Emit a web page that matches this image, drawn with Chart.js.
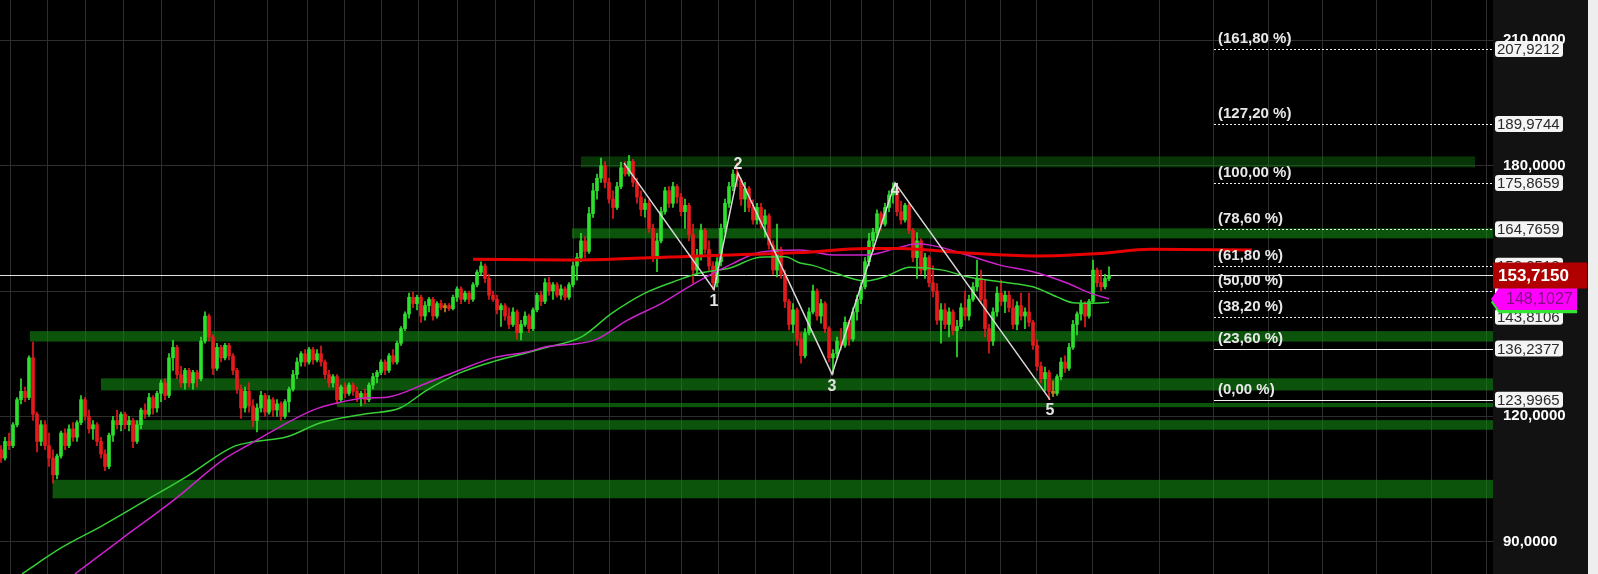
<!DOCTYPE html>
<html lang="en">
<head>
<meta charset="UTF-8">
<title>Elliott wave chart</title>
<style>
  html, body { margin: 0; padding: 0; background: #000; overflow: hidden; }
  canvas { display: block; }
</style>
</head>
<body>
<canvas id="chart" width="1598" height="574"></canvas>
<script src="https://cdn.jsdelivr.net/npm/chart.js"></script>
<script>
// daily candles, index 0..277
const opens = [
  112,110,114,113,118,124,126,124.5,134,120.5,
  114,118,113,110,106,110.5,116,113,117,115,
  118.5,124,120,117,118,114,111,108,115.5,119,
  118,120.5,118,119,114,118,121.5,120.5,124.5,122,
  125.5,128,125,134,136.5,130,128,131,128,130.5,
  129,138,144,139,131.5,136.5,134,137,134.5,131,
  126.5,122,126,122.5,119,122,125,121,124,121.5,
  123,120,123.5,126.5,130,133,135,133,136,133.5,
  135,133,130,128,129.5,124,127,125.5,127.5,126,
  124.5,125.5,124,127.5,129.5,130.5,133,131,134.5,133,
  137.5,141,144.5,148.5,147,148.5,144,146.5,148,144,
  147,146,146.5,145.8,148.5,150.5,148,149.5,148,151.5,
  154.5,156,153,149,148,145.5,146.5,144,142,145,
  140,142,144,141,145.5,149,147.5,152,150,151.5,
  149,150.5,148.5,151.5,156,158,162,159.5,168.5,174,
  177,180,176,172,170,175,179.5,178,181,176,
  172.5,169.5,171,165,158,162,169,174,171,175,
  172.5,169,170.5,163.5,155,158.5,164.5,160,156,152,
  157,165,171,175,178,176.5,172,174.5,170,167,
  170,166,168,161,155,160,154,147.5,142,145.5,
  138.5,134.5,140,145,150,144,147,141,134,135,
  138,137,142.5,138.5,145,148,151,157,162,164,
  168.5,166,170,173,174.5,169,167,170.5,164.5,158,
  162,155,158,152,150,143,145.5,142,145,140.5,
  141.5,146,144,148,151,153,148,141,138,145,
  149.5,147.5,149,146,142,146.5,144,145,142.5,137,
  132,129,130.5,126,125.5,129.5,133,131.5,136.5,142,
  144.5,147,144,147.5,155,152,151,153
];
const highs = [
  113,115,116,118.5,124.5,129,127,134.5,137.8,121,
  119,119,116,112,111,116.5,117,118,118.5,119,
  125,124.5,121.5,119,118.5,115,112,116,120,121.5,
  121,121,120,119.5,119,122,123,125.5,125,126,
  128.7,129,135,138.2,137,132,131.5,131.5,131,131,
  139,145,144.5,139.5,137.5,137,137.5,137.5,135,131.5,
  127.5,127,128,124,123,126,125.5,125,124.5,124,
  123.5,124,127,131,134,135.5,136,136.5,136.5,136,
  136.8,133.5,131,130,130,127.5,128,128,128,127,
  126,126.5,128,130.3,131,133.5,133.5,135,136,138,
  141.5,145,149.5,149.7,149,149,147.5,148.5,148.5,147.5,
  147.8,147,147,149,151,151,150,150,152,155,
  157,156.5,154,150,149,147,147,146,146,145.5,
  143,145,144.5,146,149.5,150,153,153.3,152,152,
  151.5,151,152,157,159,163.8,163,170,175.8,178,
  181.8,181,177,174,176,180.8,181,182.5,181.5,177,
  174,172,171.8,166,163.8,170,174.8,175,176,175.5,
  173.4,172,171,166,160,166,165,162,157,158,
  166,172,176,179,180.6,177,176,175,171.8,171,
  171,169.4,168.5,162,166,160.5,155,148,147,146,
  140,141,146,151.4,150.5,148,147.5,141.5,136,139,
  141,143.8,143,146,149,152,158,163.8,165,169.4,
  169,171,174,175.87,175,171.5,171,171,165,164,
  162.5,159,158.5,156,151.8,147,147,146,145.5,143,
  147,150,149,152,157.4,155,152.6,142,146,151,
  152.6,150,150,148,147.5,149.5,146,149.5,143,138.3,
  133,131.8,131,128.5,130,134,134.5,137.5,143,145,
  147.8,147.5,148,157.4,155.5,155,154,155.8
];
const lows = [
  109,109.5,112,112.5,117.5,123,123.5,124,119,111.5,
  113,112,108,104,105,110,112,112.5,114,114,
  118,119,116,114.5,113,110,107,107.5,114,117,
  116.5,117,116.5,112.5,113.5,117,119.5,120,120.5,121,
  123.5,124,124.5,131,129,127,126.5,127,126.5,127,
  128.5,137.5,138,130,131,133,133.5,133.5,130,125.5,
  119.5,121,121,117.5,116.3,121,120,120.5,120,120,
  119,119.5,121,126,129,132,132,132.5,132.5,133,
  132,129,127,127,123,123.5,124.5,125,125,123.5,
  122.5,123,123.5,126.5,128,130,130,130.5,132.5,132.5,
  137,140.5,143.5,146,145.5,142.5,143,145,143,143.5,
  145.5,145,145.3,145.5,147.5,147,147.5,147,147.5,151,
  153.8,152,148,147.5,144.5,141.5,143,141,141.5,138.5,
  138.3,141.5,140,140.5,145,146.5,147,149,148,148.5,
  148,147.8,148,151,152.6,157,158,159,167.6,172,
  176,174.7,171,167.4,169.5,174.5,177.5,177.5,175,171,
  168,167.7,164,157,154.6,161.5,168.4,170,170,171,
  168,165,162,151.9,154,157.4,159,155,150.3,151,
  156,164,170,174,175,170.5,169,169,166,166,
  165,162.9,160,154,153.4,153,146,140.7,140,137,
  132.7,134,139.5,144.5,143,142.3,140,133,130.1,134,
  135.9,136.5,137,138,143,147,150.5,156,159.5,163,
  164.5,165.5,169,171,168,166,166.5,163.8,157,153,
  154,153,151,148.6,142,137.5,141,139,139.5,134.2,
  141,143,143,147.5,150,147,139,135.1,137,144,
  146.5,144.8,145,141,140.7,143,141,141.5,136,131,
  128,126,124.0,124.7,125,128.7,130.5,131,136,139.5,
  143,141.4,143.5,147,151,150,150.5,152.5
];
const closes = [
  110,114,113,118,124,126,124.5,134,120.5,114,
  118,113,110,106,110.5,116,113,117,115,118.5,
  124,120,117,118,114,111,108,115.5,119,118,
  120.5,118,119,114,118,121.5,120.5,124.5,122,125.5,
  128,125,134,136.5,130,128,131,128,130.5,129,
  138,144,139,131.5,136.5,134,137,134.5,131,126.5,
  122,126,122.5,119,122,125,121,124,121.5,123,
  120,123.5,126.5,130,133,135,133,136,133.5,135,
  133,130,128,129.5,124,127,125.5,127.5,126,124.5,
  125.5,124,127.5,129.5,130.5,133,131,134.5,133,137.5,
  141,144.5,148.5,147,148.5,144,146.5,148,144,147,
  146,146.5,145.8,148.5,150.5,148,149.5,148,151.5,154.5,
  156,153,149,148,145.5,146.5,144,142,145,140,
  142,144,141,145.5,149,147.5,152,150,151.5,149,
  150.5,148.5,151.5,156,158,162,159.5,168.5,174,177,
  180,176,172,170,175,179.5,178,181,176,172.5,
  169.5,171,165,158,162,169,174,171,175,172.5,
  169,170.5,163.5,155,158.5,164.5,160,156,152,157,
  165,171,175,178,176.5,172,174.5,170,167,170,
  166,168,161,155,160,154,147.5,142,145.5,138.5,
  134.5,140,145,150,144,147,141,134,135,138,
  137,142.5,138.5,145,148,151,157,162,164,168.5,
  166,170,173,174.5,169,167,170.5,164.5,158,162,
  155,158,152,150,143,145.5,142,145,140.5,141.5,
  146,144,148,151,153,148,141,138,145,149.5,
  147.5,149,146,142,146.5,144,145,142.5,137,132,
  129,130.5,126,125.5,129.5,133,131.5,136.5,142,144.5,
  147,144,147.5,155,152,151,153,153.715
];

// moving averages (x = candle index)
const greenX = [5.25, 15, 25.25, 36.4, 46.4, 58, 63, 71.5, 79.75, 91.25, 99.75, 106.5, 114.75, 123, 131.5, 136, 145.25, 152.75, 161, 169.25, 174.75, 182.25, 189.75, 196, 199.75, 202.75, 208.5, 216.25, 221, 227.25, 235.5, 241.5, 249.75, 258, 264, 268, 272.25, 277];
const greenY = [82.3, 88.5, 93.8, 100.0, 105.6, 112.7, 113.9, 115.1, 118.4, 120.6, 122.0, 126.3, 130.4, 133.1, 135.2, 136.4, 139.1, 144.7, 149.5, 152.6, 154.3, 155.5, 158.1, 158.2, 156.7, 156.2, 154.3, 152.4, 153.4, 155.7, 155.0, 153.4, 152.2, 151.0, 148.6, 147.2, 147.1, 147.3];
const magX = [18.5, 29.75, 43.9, 55.5, 61.75, 69.75, 78, 84, 91, 96.5, 106.5, 114.75, 123, 131.5, 136, 148.5, 156.75, 165.25, 173.5, 183, 189.75, 199.75, 208, 216.5, 224.75, 229, 234.75, 241.5, 249.75, 258, 266.5, 272.25, 277];
const magY = [82.3, 90.4, 100.5, 109.6, 113.1, 117.5, 121.5, 123.2, 124.4, 124.6, 128.0, 131.1, 134.0, 135.4, 136.6, 138.3, 143.1, 147.1, 151.9, 156.6, 159.3, 159.8, 158.6, 158.6, 160.5, 161.3, 160.5, 158.6, 156.2, 154.6, 151.9, 149.5, 148.1027];
const redX = [118, 141.5, 174.75, 199.75, 216.5, 224.75, 241.5, 258, 274.75, 287.25, 312.75];
const redY = [157.6, 157.4, 158.4, 159.2, 160.2, 160.2, 159.1, 158.4, 159.0, 160.0, 159.8];

// wave count
const waveX = [155.75, 178.25, 184.25, 207.75, 223.5, 262.25];
const waveY = [180.6, 150.3, 178.2, 130.1, 175.8659, 123.9965];
const waveLabels = ['', '1', '2', '3', '4', '5'];

// support / resistance zones
const bandFrom = [145, 142.75, 7.25, 25, 84, 32.5, 12.9];
const bandTo = [368.5, 373, 373, 373, 373, 373, 373];
const bandLow = [179.6, 162.6, 137.9, 126.2, 122.2, 116.8, 100.4];
const bandHigh = [182.2, 165.0, 140.4, 129.1, 123.2, 119.1, 104.8];

// fibonacci levels
const fibPct = [161.8, 127.2, 100, 78.6, 61.8, 50, 38.2, 23.6, 0];
const fibValue = [207.9212, 189.9744, 175.8659, 164.7659, 156.0518, 149.9312, 143.8106, 136.2377, 123.9965];
const fibFrom = 303.25;

const yTicks = [90, 120, 150, 180, 210];
const gridIdx = [7, 16.25, 26, 35, 45, 61.5, 71.75, 81.25, 90.5, 99.75, 109, 119, 128.25, 138.5, 147.5, 156.75, 165.5, 174.5, 184, 193.25, 202.75, 212, 218.25, 227.75, 237, 245, 254.5, 263.25, 282.5, 296.5, 309.75, 323.75, 336.75, 350.75, 364.5];

const FONT = 'Arial, "Liberation Sans", sans-serif';
const fmt = v => v.toFixed(4).replace('.', ',');
const lastPrice = closes[closes.length - 1];

function candleColor(i) {
  const d = closes[i] - opens[i];
  if (Math.abs(d) < 0.6) return '#c0861e';
  return d >= 0 ? '#2ee02e' : '#e51b1b';
}
const pts = (xs, ys) => xs.map((x, k) => ({ x, y: ys[k] }));
const idx = closes.map((_, i) => i);

const backdrop = {
  id: 'backdrop',
  beforeDraw(chart) {
    const { ctx, chartArea: ca, width, height } = chart;
    ctx.save();
    ctx.fillStyle = '#000';
    ctx.fillRect(0, 0, ca.right, height);
    ctx.fillStyle = '#121212';
    ctx.fillRect(ca.right, 0, 95, height);
    ctx.fillStyle = '#eeeeee';
    ctx.fillRect(ca.right + 95, 0, width - ca.right - 95, height);
    ctx.restore();
  }
};

const zones = {
  id: 'zones',
  beforeDatasetsDraw(chart) {
    const { ctx, chartArea: ca, scales: { x, y } } = chart;
    ctx.save();
    ctx.beginPath();
    ctx.rect(ca.left, ca.top, ca.width, ca.height);
    ctx.clip();
    bandLow.forEach((lo, k) => {
      ctx.fillStyle = k === 0 ? 'rgba(20,140,20,0.38)' : 'rgba(20,140,20,0.6)';
      const x0 = x.getPixelForValue(bandFrom[k]);
      const x1 = x.getPixelForValue(bandTo[k]);
      const y0 = y.getPixelForValue(bandHigh[k]);
      const y1 = y.getPixelForValue(lo);
      ctx.fillRect(x0, y0, x1 - x0, y1 - y0);
    });
    // last price line
    const py = Math.round(y.getPixelForValue(lastPrice)) + 0.5;
    ctx.strokeStyle = '#e2e2e2';
    ctx.lineWidth = 1;
    ctx.beginPath();
    ctx.moveTo(ca.left, py);
    ctx.lineTo(ca.right, py);
    ctx.stroke();
    ctx.restore();
  }
};

const fibs = {
  id: 'fibs',
  afterDatasetsDraw(chart) {
    const { ctx, chartArea: ca, scales: { x, y } } = chart;
    const x0 = x.getPixelForValue(fibFrom);
    ctx.save();
    ctx.strokeStyle = '#f0f0f0';
    ctx.lineWidth = 1;
    ctx.fillStyle = '#e8e8e8';
    ctx.font = 'bold 15px ' + FONT;
    ctx.textAlign = 'left';
    ctx.textBaseline = 'alphabetic';
    fibValue.forEach((v, k) => {
      const py = Math.round(y.getPixelForValue(v)) + 0.5;
      ctx.setLineDash(fibPct[k] > 25 ? [2, 2] : []);
      ctx.beginPath();
      ctx.moveTo(x0, py);
      ctx.lineTo(ca.right, py);
      ctx.stroke();
      ctx.fillText('(' + fibPct[k].toFixed(2).replace('.', ',') + ' %)', x0 + 4, py - 7);
    });
    ctx.setLineDash([]);
    // wave numbers
    const dy = [0, 12, -9, 12, 8, 11];
    ctx.font = 'bold 16px ' + FONT;
    ctx.fillStyle = '#e4e4e4';
    ctx.textAlign = 'center';
    ctx.textBaseline = 'middle';
    waveLabels.forEach((t, k) => {
      if (!t) return;
      ctx.fillText(t, x.getPixelForValue(waveX[k]), y.getPixelForValue(waveY[k]) + dy[k]);
    });
    ctx.restore();
  }
};

function tagShape(ctx, x0, x1, cy, h) {
  ctx.beginPath();
  ctx.moveTo(x0, cy);
  ctx.lineTo(x0 + 8, cy - h / 2);
  ctx.lineTo(x1, cy - h / 2);
  ctx.lineTo(x1, cy + h / 2);
  ctx.lineTo(x0 + 8, cy + h / 2);
  ctx.closePath();
}

const axisTags = {
  id: 'axisTags',
  afterDraw(chart) {
    const { ctx, chartArea: ca, scales: { y } } = chart;
    const ax = ca.right;
    ctx.save();
    ctx.textAlign = 'left';
    ctx.textBaseline = 'middle';
    // fibonacci value boxes
    ctx.font = '15px ' + FONT;
    fibValue.forEach(v => {
      const cy = y.getPixelForValue(v);
      ctx.fillStyle = '#f4f4f4';
      ctx.beginPath();
      ctx.roundRect(ax + 2, cy - 8, 68, 16, 3);
      ctx.fill();
      ctx.fillStyle = '#2a2a2a';
      ctx.fillText(fmt(v), ax + 4, cy + 1);
    });
    // moving average tags
    const gv = greenY[greenY.length - 1];
    let cy = y.getPixelForValue(gv);
    ctx.fillStyle = '#33e633';
    tagShape(ctx, ax - 2, ax + 84, cy, 22);
    ctx.fill();
    ctx.font = '16px ' + FONT;
    ctx.fillStyle = '#0b4d0b';
    ctx.fillText(fmt(gv), ax + 13, cy + 1);

    const mv = magY[magY.length - 1];
    cy = y.getPixelForValue(mv);
    ctx.fillStyle = '#ff00ff';
    tagShape(ctx, ax - 2, ax + 84, cy, 22);
    ctx.fill();
    ctx.fillStyle = '#7d127d';
    ctx.fillText(fmt(mv), ax + 13, cy + 1);

    // last price
    cy = y.getPixelForValue(lastPrice);
    ctx.fillStyle = '#b00000';
    ctx.fillRect(ax, cy - 13, 94, 26);
    ctx.font = 'bold 17px ' + FONT;
    ctx.fillStyle = '#ffffff';
    ctx.fillText(fmt(lastPrice), ax + 5, cy + 1);
    ctx.restore();
  }
};

const ctx = document.getElementById('chart').getContext('2d');
new Chart(ctx, {
  type: 'bar',
  data: {
    datasets: [
      {
        type: 'line', label: 'Wave', data: pts(waveX, waveY),
        borderColor: '#d8d8d8', borderWidth: 1.5, pointRadius: 0, order: 0
      },
      {
        type: 'line', label: 'MA long', data: pts(redX, redY),
        borderColor: '#e80000', borderWidth: 3, pointRadius: 0,
        cubicInterpolationMode: 'monotone', order: 1
      },
      {
        type: 'line', label: 'MA magenta', data: pts(magX, magY),
        borderColor: '#cc22cc', borderWidth: 1.5, pointRadius: 0,
        cubicInterpolationMode: 'monotone', order: 2
      },
      {
        type: 'line', label: 'MA green', data: pts(greenX, greenY),
        borderColor: '#36cf36', borderWidth: 1.5, pointRadius: 0,
        cubicInterpolationMode: 'monotone', order: 2
      },
      {
        label: 'Body', data: idx.map(i => ({ x: i, y: [opens[i], closes[i]] })),
        backgroundColor: c => candleColor(c.dataIndex),
        barThickness: 3, maxBarThickness: 3, minBarLength: 1, grouped: false, order: 3
      },
      {
        label: 'Wick', data: idx.map(i => ({ x: i, y: [lows[i], highs[i]] })),
        backgroundColor: c => candleColor(c.dataIndex),
        barThickness: 1, maxBarThickness: 1, grouped: false, order: 4
      }
    ]
  },
  options: {
    responsive: false,
    animation: false,
    events: [],
    layout: { padding: 0 },
    plugins: { legend: { display: false }, tooltip: { enabled: false } },
    scales: {
      x: {
        type: 'linear', min: -0.25, max: 373, offset: false,
        afterBuildTicks: s => { s.ticks = gridIdx.map(v => ({ value: v })); },
        ticks: { display: false },
        grid: { color: '#2e2e2e', drawTicks: false },
        border: { display: false },
        afterFit: s => { s.height = 0; s.paddingLeft = 0; s.paddingRight = 0; }
      },
      y: {
        type: 'linear', position: 'right', min: 82.27, max: 219.65,
        afterBuildTicks: s => { s.ticks = yTicks.map(v => ({ value: v })); },
        ticks: {
          color: '#ffffff', padding: 10,
          font: { family: FONT, size: 15, weight: 'bold' },
          callback: v => fmt(v)
        },
        grid: { color: '#2e2e2e', drawTicks: false },
        border: { display: false },
        afterFit: s => { s.width = 105; s.paddingTop = 0; s.paddingBottom = 0; }
      }
    }
  },
  plugins: [backdrop, zones, fibs, axisTags]
});
</script>
</body>
</html>
